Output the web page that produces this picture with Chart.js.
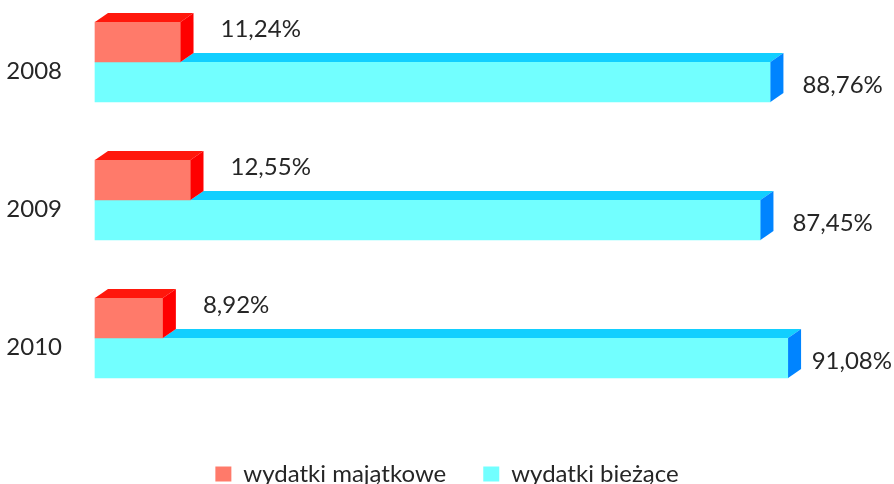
<!DOCTYPE html>
<html>
<head>
<meta charset="utf-8">
<script src="https://cdn.jsdelivr.net/npm/chart.js@4/dist/chart.umd.min.js"></script>
<style>
    html, body { margin: 0; padding: 0; background: #fff; overflow: hidden; }
    #wrap { width: 894px; height: 500px; }
</style>
</head>
<body>
<div id="wrap"><canvas id="chart-wydatki" width="894" height="500"></canvas></div>
<script>
const years = ['2008', '2009', '2010'];
const majatkowe = [11.24, 12.55, 8.92];
const biezace = [88.76, 87.45, 91.08];

const seriesNames = ['wydatki majątkowe', 'wydatki bieżące'];

// front / top / side colours of the fake 3d boxes
const redFront = '#FF7A6A', redTop = '#FF180C', redSide = '#FF0000';
const cyanFront = '#72FFFF', cyanTop = '#12CFFF', cyanSide = '#0084FF';

const depthX = 13;
const depthY = 9;
const fontFamily = 'Lato, "Open Sans", sans-serif';

function fmt(v) {
    return v.toFixed(2).replace('.', ',') + '%';
}

function poly(ctx, pts, color) {
    ctx.beginPath();
    ctx.moveTo(pts[0][0], pts[0][1]);
    for (let i = 1; i < pts.length; i++) {
        ctx.lineTo(pts[i][0], pts[i][1]);
    }
    ctx.closePath();
    ctx.fillStyle = color;
    ctx.fill();
}

const boxes3d = {
    id: 'boxes3d',
    afterDatasetsDraw(chart) {
        const ctx = chart.ctx;
        const reds = chart.getDatasetMeta(0).data;
        const cyans = chart.getDatasetMeta(1).data;

        ctx.save();
        reds.forEach((r, i) => {
            const c = cyans[i];
            const rTop = r.y - r.height / 2;
            const rBot = r.y + r.height / 2;
            const cTop = c.y - c.height / 2;
            const cBot = c.y + c.height / 2;

            // cyan top, only the part not hidden by the red box
            poly(ctx, [[r.x, cTop], [c.x, cTop], [c.x + depthX, cTop - depthY], [r.x + depthX, cTop - depthY]], cyanTop);
            poly(ctx, [[c.x, cTop], [c.x + depthX, cTop - depthY], [c.x + depthX, cBot - depthY], [c.x, cBot]], cyanSide);

            poly(ctx, [[r.base, rTop], [r.x, rTop], [r.x + depthX, rTop - depthY], [r.base + depthX, rTop - depthY]], redTop);
            poly(ctx, [[r.x, rTop], [r.x + depthX, rTop - depthY], [r.x + depthX, rBot - depthY], [r.x, rBot]], redSide);

            ctx.font = '24px ' + fontFamily;
            ctx.fillStyle = '#262626';
            ctx.textAlign = 'left';
            ctx.textBaseline = 'middle';

            ctx.fillText(fmt(majatkowe[i]), r.x + 40, rTop + 7);

            const txt = fmt(biezace[i]);
            const w = ctx.measureText(txt).width;
            const x = Math.min(c.x + 32, chart.width - w - 2);
            ctx.fillText(txt, x, c.y + 3);
        });
        ctx.restore();
    }
};

new Chart(document.getElementById('chart-wydatki'), {
    type: 'bar',
    data: {
        labels: years,
        datasets: [
            {
                label: seriesNames[0],
                data: majatkowe,
                backgroundColor: redFront,
                borderWidth: 0,
                barThickness: 40,
                clip: false
            },
            {
                label: seriesNames[1],
                data: biezace,
                backgroundColor: cyanFront,
                borderWidth: 0,
                barThickness: 40,
                clip: false
            }
        ]
    },
    options: {
        indexAxis: 'y',
        responsive: false,
        animation: false,
        events: [],
        layout: {
            padding: { top: 62, left: 0, right: 0, bottom: 4 }
        },
        scales: {
            x: {
                type: 'linear',
                min: 0,
                max: 105,
                grid: { display: false },
                border: { display: false },
                ticks: { display: false },
                afterFit: scale => { scale.height = 87; }
            },
            y: {
                type: 'category',
                offset: false,
                grid: { display: false, drawTicks: false },
                border: { display: false },
                ticks: {
                    padding: 33,
                    labelOffset: 9,
                    color: '#262626',
                    font: { family: fontFamily, size: 24 }
                },
                afterFit: scale => { scale.width = 95; }
            }
        },
        plugins: {
            legend: {
                position: 'bottom',
                labels: {
                    boxWidth: 16,
                    boxHeight: 15,
                    padding: 37,
                    color: '#262626',
                    font: { family: fontFamily, size: 24 }
                }
            },
            tooltip: { enabled: false }
        }
    },
    plugins: [boxes3d]
});
</script>
</body>
</html>
